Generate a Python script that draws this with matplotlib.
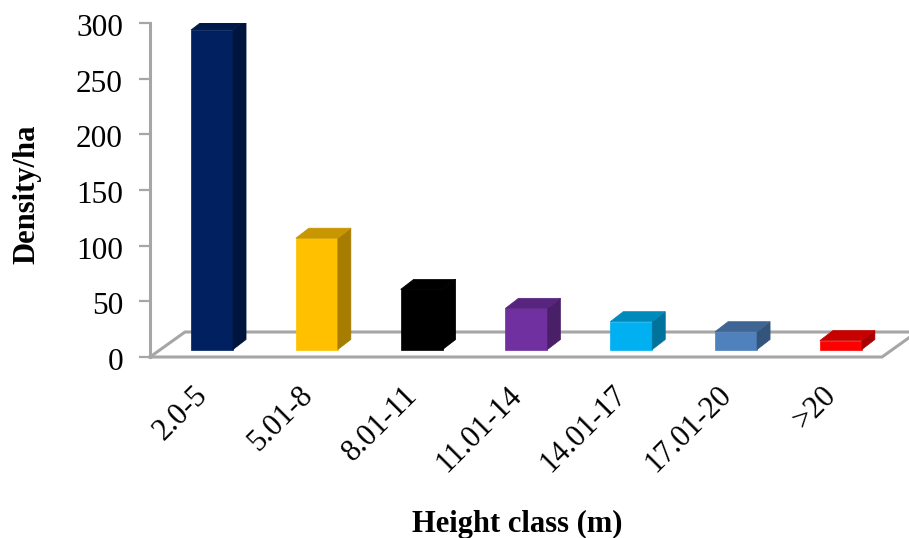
import matplotlib
matplotlib.use('Agg')
import matplotlib.pyplot as plt
import matplotlib.transforms as mtrans
from matplotlib.colors import to_rgb

classes = ['2.0-5', '5.01-8', '8.01-11', '11.01-14', '14.01-17', '17.01-20', '>20']
density = [287, 100, 54, 37, 25, 16, 8]
colors = ['#002060', '#FFC000', '#000000', '#7030A0', '#00B0F0', '#4F81BD', '#FF0000']

W, H = 909, 538
GRAY = '#A6A6A6'
plt.rcParams['font.family'] = ['Liberation Serif', 'DejaVu Serif']

fig = plt.figure(figsize=(W / 100, H / 100), dpi=100)
ax = fig.add_axes([150 / W, (H - 357) / H, (W - 150) / W, 334 / H])
ax.set_xlim(-0.592, 6.65)
ax.set_ylim(0, 300)

# pixel sizes in data units
px = 7.242 / (W - 150)
py = 300 / 334


def darker(c, f):
    return tuple(v * f for v in to_rgb(c))


# floor
floor_dx, floor_dy = 35 * px, 25 * py
x0, x1 = ax.get_xlim()
front_end = x0 + 732 * px
ax.plot([x0, x0 + floor_dx, x1 + 2 * px], [0, floor_dy, floor_dy], color=GRAY, lw=2.2, zorder=1, clip_on=False)
ax.plot([x0, front_end, front_end + floor_dx], [0, 0, floor_dy], color=GRAY, lw=2.2, zorder=1, clip_on=False)

# 3d bars
half = 21 * px
dx, dy = 13 * px, 10 * py
base = 7.5 * py
for i, (v, c) in enumerate(zip(density, colors)):
    left, right = i - half, i + half
    bot, top = base, base + v
    ax.fill([left, right, right, left], [bot, bot, top, top], color=c, lw=0.5, zorder=3)
    ax.fill([right, right + dx, right + dx, right], [bot, bot + dy, top + dy, top],
            color=darker(c, 0.65), lw=0.5, zorder=3)
    ax.fill([left, right, right + dx, left + dx], [top, top, top + dy, top + dy],
            color=darker(c, 0.78), lw=0.5, zorder=3)

for s in ['top', 'right', 'bottom']:
    ax.spines[s].set_visible(False)
ax.spines['left'].set_color(GRAY)
ax.spines['left'].set_linewidth(2.2)

ax.set_yticks(range(0, 301, 50))
ax.tick_params(axis='y', length=8, width=1.6, color=GRAY, labelsize=22.5, pad=11.5, labelcolor='black')
down = mtrans.ScaledTranslation(0, -2 / 100, fig.dpi_scale_trans)
for lab in ax.get_yticklabels():
    lab.set_transform(lab.get_transform() + down)

ax.set_xticks(range(len(classes)))
ax.set_xticklabels(classes, rotation=45, ha='right', rotation_mode='anchor', fontsize=22)
ax.tick_params(axis='x', length=0, pad=17)
shift = mtrans.ScaledTranslation(-19 / 100, 0, fig.dpi_scale_trans)
for lab in ax.get_xticklabels():
    lab.set_transform(lab.get_transform() + shift)

fig.text(27 / W, (H - 194) / H, 'Density/ha', rotation=90, ha='center', va='center',
         fontsize=22, fontweight='bold')
fig.text(517 / W, (H - 524) / H, 'Height class (m)', ha='center', va='center',
         fontsize=22, fontweight='bold')

fig.savefig('out.png', dpi=100)
